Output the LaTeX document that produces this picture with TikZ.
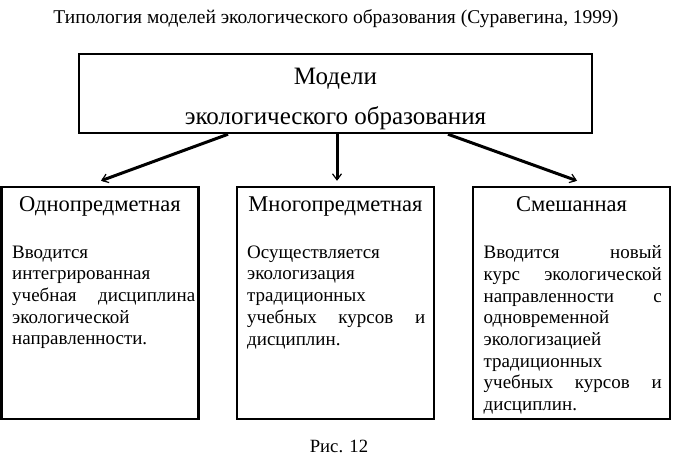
\documentclass[tikz,border=0pt]{standalone}
\usepackage{fontspec}
\setmainfont{Liberation Serif}
\usetikzlibrary{shapes,arrows,arrows.meta}
\usetikzlibrary{calc}
\tikzstyle{line} = [draw, line width=3pt, -{Straight Barb[length=6pt,width=9pt,line width=1.2pt]}]
\tikzstyle{box} = [draw, line width=2.5pt, inner sep=0pt]
\tikzstyle{head} = [anchor=base, font=\fontsize{22.5}{26}\selectfont]
\tikzstyle{body} = [text width=178pt, align=justify, inner sep=0pt, anchor=north west, font=\fontsize{19}{21.7}\selectfont]

\begin{document}
\begin{tikzpicture} [x=1pt, y=-1pt]
        \useasboundingbox (0,0) rectangle (673,469);

        \node[anchor=base, font=\fontsize{19.5}{22}\selectfont] (title) at (336,23) {Типология моделей экологического образования (Суравегина, 1999)};

        \node[box, minimum width=513pt, minimum height=79pt] (model) at (335.5,93.5) {};
        \node[anchor=base, font=\fontsize{25}{30}\selectfont] (modeltop) at (335.5,84) {Модели};
        \node[anchor=base, font=\fontsize{25}{30}\selectfont] (modelbottom) at (335.5,124.5) {экологического образования};

        \node[box, minimum width=197pt, minimum height=232pt] (single) at (100,303) {};
        \node[box, minimum width=197pt, minimum height=232pt] (multi) at (335.5,303) {};
        \node[box, minimum width=197pt, minimum height=232pt] (mixed) at (571.5,303) {};

        \node[head] (singlehead) at (100,211.5) {Однопредметная};
        \node[head] (multihead) at (335.5,211.5) {Многопредметная};
        \node[head] (mixedhead) at (571.5,211.5) {Смешанная};

        \node[body, text width=183pt] (singletext) at (12,245.5) {Вводится\newline интегрированная\newline учебная дисциплина\linebreak экологической\newline направленности.};
        \node[body] (multitext) at (247,245.5) {Осуществляется\newline экологизация\newline традиционных\newline учебных курсов и\linebreak дисциплин.};
        \node[body] (mixedtext) at (483.5,245.5) {Вводится новый\linebreak курс экологической\linebreak направленности с\linebreak одновременной\newline экологизацией\newline традиционных\newline учебных курсов и\linebreak дисциплин.};

        \node[anchor=base, font=\fontsize{18.7}{22}\selectfont] (fig) at (339,452) {Рис. 12};

        \path [line] ($(model.south)+(-107.5pt,0)$) -- ($(single.north)+(1pt,5pt)$);
        \path [line] ($(model.south)+(1.5pt,0)$) -- ($(multi.north)+(1.5pt,5pt)$);
        \path [line] ($(model.south)+(112.5pt,0)$) -- ($(mixed.north)+(5.5pt,5pt)$);

\end{tikzpicture}
\end{document}
